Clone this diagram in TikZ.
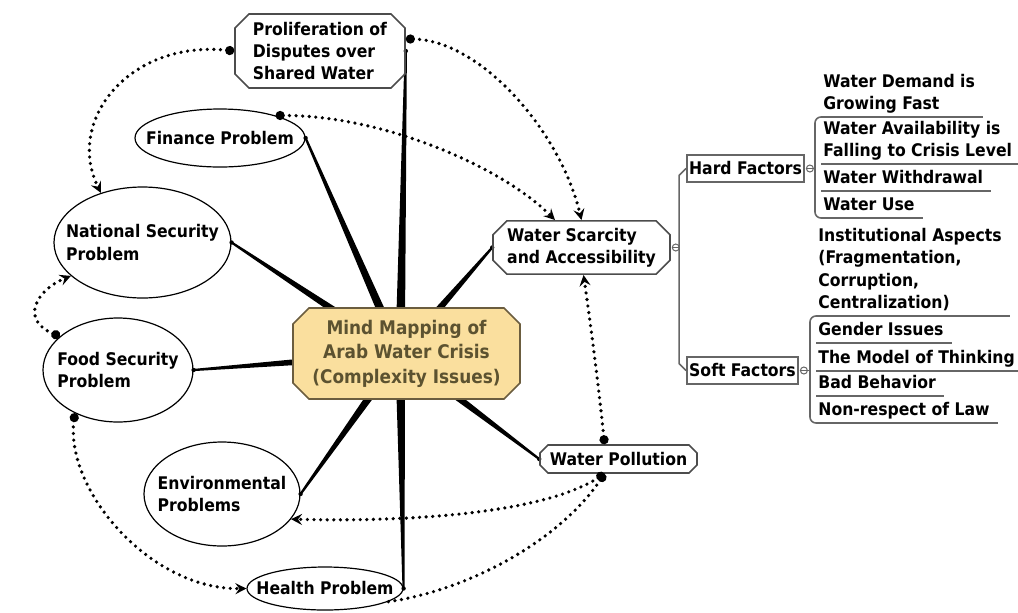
\documentclass[tikz,border=0pt]{standalone}
\usepackage{fontspec}
\setmainfont{DejaVu Sans Condensed}
\usetikzlibrary{shapes.geometric, shapes.misc, arrows.meta, calc}
\definecolor{crisisfill}{HTML}{FADF9E}
\definecolor{crisistext}{HTML}{5C5230}
\definecolor{crisisline}{HTML}{6B5D3F}
\definecolor{twig}{HTML}{666666}
\pgfdeclarelayer{background}
\pgfsetlayers{background,main}
\newcommand{\branch}[2]{
	\fill ($(#1)!2.4pt!90:(#2)$) -- ($(#2)!0.55pt!-90:(#1)$) -- ($(#2)!0.55pt!90:(#1)$) -- ($(#1)!2.4pt!-90:(#2)$) -- cycle;
	\fill (#2) circle (1.1pt);
}
\tikzset{
	x=0.5pt, y=-0.5pt,
	every node/.style={font=\fontsize{8.7}{11.2}\selectfont\bfseries},
	problem/.style={ellipse, draw, line width=0.6pt, inner sep=-30pt, align=left},
	issue/.style={chamfered rectangle, chamfered rectangle sep=3.5pt, draw=black!70, line width=0.8pt, inner sep=0pt, align=left},
	factor/.style={rectangle, draw=twig, line width=0.9pt, inner sep=0pt, minimum height=13.5pt},
	twigline/.style={draw=twig, line width=0.8pt},
	leaf/.style={anchor=south west, inner xsep=4pt, inner ysep=1.5pt, text depth=2pt, align=left,
		append after command={([xshift=3pt]\tikzlastnode.south west) edge[twigline] (\tikzlastnode.south east)}},
	toggle/.style={circle, draw=twig, line width=0.5pt, minimum size=3.5pt, inner sep=0pt, fill=white,
		path picture={\draw[twig, line width=0.5pt] (path picture bounding box.west) -- (path picture bounding box.east);}},
	link/.style={line width=1.8pt, dash pattern=on 0pt off 3.3pt, line cap=round,
		{Circle[length=4.5pt]}-{Stealth[length=5.5pt, width=5.5pt, inset=2pt]}},
}
\begin{document}
\begin{tikzpicture}
	\useasboundingbox (0,0) rectangle (1018,612);
	\node[issue, chamfered rectangle sep=4pt, minimum width=113.5pt, minimum height=45.5pt, fill=crisisfill, draw=crisisline, text=crisistext, align=center, font=\fontsize{9.4}{12.25}\selectfont\bfseries] (CRISIS) at (406.5,353.5) {Mind Mapping of\\Arab Water Crisis\\(Complexity Issues)};
	\coordinate (HUB) at (400,354);
	\node[issue, minimum width=85pt, minimum height=37pt] (DISPUTES) at (320,51) {Proliferation of\\Disputes over\\Shared Water};
	\node[problem, minimum width=85pt, minimum height=29pt] (FINANCE) at (220,138) {Finance Problem};
	\node[problem, minimum width=88.5pt, minimum height=55.5pt] (NATSEC) at (142.5,242.5) {National Security\\Problem};
	\node[problem, minimum width=75pt, minimum height=52pt] (FOODSEC) at (118,370) {Food Security\\Problem};
	\node[problem, minimum width=78pt, minimum height=52pt] (ENVIRON) at (222,494) {Environmental\\Problems};
	\node[problem, minimum width=78pt, minimum height=21.5pt] (HEALTH) at (325,588.5) {Health Problem};
	\node[issue, minimum width=88.5pt, minimum height=25.5pt] (SCARCITY) at (581.5,247.5) {Water Scarcity\\and Accessibility};
	\node[issue, chamfered rectangle sep=2pt, minimum width=78.5pt, minimum height=14pt] (POLLUTION) at (618.5,459) {Water Pollution};
	\node[factor, minimum width=58.5pt] (HARD) at (745.5,168.5) {Hard Factors};
	\node[factor, minimum width=55.5pt] (SOFT) at (742.5,370.5) {Soft Factors};
	\node[toggle] (SCARCITYT) at ($(SCARCITY.east)+(5,0)$) {};
	\node[toggle] (HARDT) at ($(HARD.east)+(5,0)$) {};
	\node[toggle] (SOFTT) at ($(SOFT.east)+(5,0)$) {};

	\node[leaf] (DEMAND) at (815,117) {Water Demand is\\Growing Fast};
	\node[leaf] (AVAIL) at (815,164) {Water Availability is\\Falling to Crisis Level};
	\node[leaf] (WITHDRAW) at (815,191) {Water Withdrawal};
	\node[leaf] (USE) at (815,218) {Water Use};
	\node[leaf] (INSTIT) at (810,316) {Institutional Aspects\\(Fragmentation,\\Corruption,\\Centralization)};
	\node[leaf] (GENDER) at (810,343) {Gender Issues};
	\node[leaf] (MODEL) at (810,371) {The Model of Thinking};
	\node[leaf] (BEHAVIOR) at (810,396) {Bad Behavior};
	\node[leaf] (LAW) at (810,423) {Non-respect of Law};

	\draw[twigline] (HARD.west) -- ++(-7,7) -- ($(SOFT.west)+(-7,-7)$) -- (SOFT.west);
	\draw[twigline, rounded corners=3pt] ([xshift=3pt]DEMAND.south west) -- (DEMAND.south west) -- (USE.south west) -- ([xshift=3pt]USE.south west);
	\draw[twigline, rounded corners=3pt] ([xshift=3pt]INSTIT.south west) -- (INSTIT.south west) -- (LAW.south west) -- ([xshift=3pt]LAW.south west);
	\draw[twigline] (HARDT) -- (HARDT -| DEMAND.south west);
	\draw[twigline] (SOFTT) -- (SOFTT -| INSTIT.south west);

	\begin{pgfonlayer}{background}
		\branch{HUB}{DISPUTES.east}
		\branch{HUB}{FINANCE.east}
		\branch{HUB}{NATSEC.east}
		\branch{HUB}{FOODSEC.east}
		\branch{HUB}{ENVIRON.east}
		\branch{HUB}{HEALTH.east}
		\branch{HUB}{SCARCITY.west}
		\branch{HUB}{POLLUTION.west}
	\end{pgfonlayer}

	\draw[link] (DISPUTES.west) .. controls (130,40) and (65,120) .. (NATSEC.130);
	\draw[link] (DISPUTES.8) .. controls (480,40) and (560,130) .. (SCARCITY.north);
	\draw[link] (FINANCE.22) .. controls (380,115) and (500,165) .. (SCARCITY.134);
	\draw[link] (FOODSEC.150) .. controls (20,320) and (36,290) .. (NATSEC.205);
	\draw[link] (FOODSEC.225) .. controls (65,490) and (150,590) .. (HEALTH.west);
	\draw[link] ([xshift=-7pt]POLLUTION.north) .. controls (598,380) and (590,320) .. ([xshift=1pt]SCARCITY.south);
	\draw[link] ([xshift=-7pt]POLLUTION.south) .. controls (540,515) and (400,522) .. (ENVIRON.-20);
	\draw[link, {Circle[length=4.5pt]}-] ([xshift=-7pt]POLLUTION.south) .. controls (560,540) and (470,590) .. (HEALTH.-12);
\end{tikzpicture}
\end{document}
